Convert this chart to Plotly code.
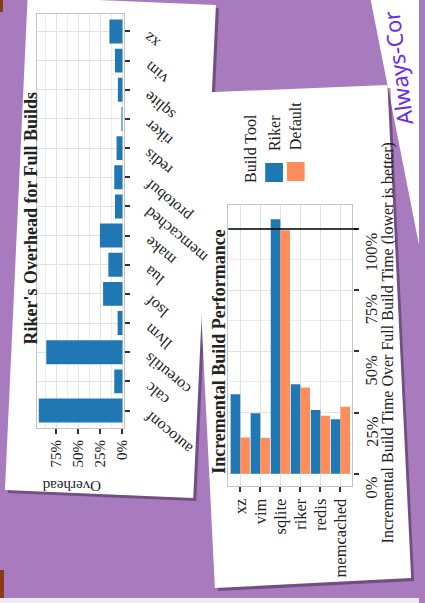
import plotly.graph_objects as go

# ---------------- data ----------------
full_programs = ['autoconf', 'calc', 'coreutils', 'llvm', 'lsof', 'lua', 'make',
                 'memcached', 'protobuf', 'redis', 'riker', 'sqlite', 'vim', 'xz']
full_overhead = [95, 9.3, 86.5, 5.5, 22, 16, 25.6, 8.5, 9.3, 6.7, 1, 5.2, 8.5, 14.8]
full_ticks = [0, 25, 50, 75]
full_ticklabels = ['0%', '25%', '50%', '75%']

inc_programs = ['xz', 'vim', 'sqlite', 'riker', 'redis', 'memcached']
inc_tools = ['Riker', 'Default']
inc_riker = [32.5, 24.7, 104, 36.6, 26, 22.3]
inc_default = [14.8, 14.7, 99.5, 35.2, 23.7, 27.4]
inc_ticks = [0, 25, 50, 75, 100]
inc_ticklabels = ['0%', '25%', '50%', '75%', '100%']
inc_reference = 100

# ---------------- style ----------------
W, H = 425, 603
PURPLE = '#a87abe'
BLUE = '#1f78b4'
ORANGE = '#fd8d5b'
TXT = '#222222'
SERIF = 'Liberation Serif'
GRID = '#e2e2e2'
MINOR = '#ececec'
BORDER = '#c4c4c4'


def fx(p):
    return p / W


def fy(p):
    return 1 - p / H


def poly(pts):
    return 'M ' + ' L '.join(f'{fx(x):.4f},{fy(y):.4f}' for x, y in pts) + ' Z'


fig = go.Figure()

fig.add_trace(go.Bar(
    x=full_overhead, y=full_programs, orientation='h',
    marker=dict(color=BLUE, line=dict(width=0)), width=0.82,
    xaxis='x', yaxis='y', showlegend=False))

fig.add_trace(go.Bar(
    x=inc_programs, y=inc_riker, name=inc_tools[0],
    marker=dict(color=BLUE, line=dict(width=0)),
    xaxis='x2', yaxis='y2', showlegend=False))
fig.add_trace(go.Bar(
    x=inc_programs, y=inc_default, name=inc_tools[1],
    marker=dict(color=ORANGE, line=dict(width=0)),
    xaxis='x2', yaxis='y2', showlegend=False))

shapes = []
shapes.append(dict(type='path', path=poly([(376, 0), (425, 0), (425, 245)]),
                   xref='paper', yref='paper', fillcolor='white', line=dict(width=0), layer='below'))
shapes.append(dict(type='rect', x0=0, x1=1, y0=fy(603), y1=fy(598), xref='paper', yref='paper',
                   fillcolor='#eeeaf0', line=dict(width=0), layer='below'))
shapes.append(dict(type='rect', x0=0, x1=fx(4), y0=fy(598), y1=fy(570), xref='paper', yref='paper',
                   fillcolor='#8a3a12', line=dict(width=0), layer='below'))
shapes.append(dict(type='rect', x0=0, x1=fx(3), y0=fy(12), y1=1, xref='paper', yref='paper',
                   fillcolor='#8a3a12', line=dict(width=0), layer='below'))

card1 = [(28, -3), (219, 5), (196, 498), (5, 490)]
card2 = [(193, 93), (393, 85), (417, 578), (218, 588)]
for card in (card1, card2):
    sh = [(x + 3, y + 3) for x, y in card]
    shapes.append(dict(type='path', path=poly(sh), xref='paper', yref='paper',
                       fillcolor='rgba(50,25,60,0.45)', line=dict(width=0), layer='below'))
    shapes.append(dict(type='path', path=poly(card), xref='paper', yref='paper',
                       fillcolor='white', line=dict(width=0), layer='below'))

shapes.append(dict(type='rect', x0=fx(269), x1=fx(287), y0=fy(182), y1=fy(163), xref='paper', yref='paper',
                   fillcolor=BLUE, line=dict(width=0)))
shapes.append(dict(type='rect', x0=fx(291), x1=fx(309), y0=fy(181), y1=fy(162), xref='paper', yref='paper',
                   fillcolor=ORANGE, line=dict(width=0)))
shapes.append(dict(type='line', xref='x2 domain', x0=0, x1=1.04, yref='y2', y0=inc_reference, y1=inc_reference,
                   line=dict(color='black', width=1.5)))


def A(text, x, y, angle, size, xanchor='center', yanchor='middle', bold=False, family=SERIF,
      color=TXT, xref='paper', yref='paper', **kw):
    if bold:
        text = f'<b>{text}</b>'
    d = dict(text=text, x=x, y=y, xref=xref, yref=yref, xanchor=xanchor, yanchor=yanchor,
             textangle=angle, showarrow=False, font=dict(family=family, size=size, color=color))
    d.update(kw)
    return d


ann = []
ann.append(A("Riker's Overhead for Full Builds", fx(31), fy(218), -90, 18, bold=True))
ann.append(A('Overhead', fx(72), fy(486), 180, 15))
ann.append(A('Incremental Build Performance', fx(222), fy(351), -90, 18, bold=True))
ann.append(A('Incremental Build Time Over Full Build Time (lower is better)', fx(394), fy(343), -90, 16))
ann.append(A('Build Tool', fx(254), fy(185), -90, 16, yanchor='bottom'))
ann.append(A(inc_tools[0], fx(278), fy(153), -90, 16, yanchor='bottom'))
ann.append(A(inc_tools[1], fx(300), fy(152), -90, 16, yanchor='bottom'))
for v, lab in zip(inc_ticks, inc_ticklabels):
    ann.append(A(lab, fx(377), v, -90, 16.5, yanchor='top', yref='y2', yshift=-1))
for p in full_programs:
    ann.append(A(p, fx(140), p, -140, 16, xanchor='left', yanchor='top', yref='y', yshift=5))
ann.append(A('Always-Cor', fx(403), fy(68), -97, 22, family='Noto Sans', color='#6a2cf0'))

axis_common = dict(showline=True, mirror=True, linecolor=BORDER, linewidth=1.2, zeroline=False,
                   ticks='outside', ticklen=5, tickwidth=1.5, tickcolor='#333',
                   gridcolor=GRID, gridwidth=1.3, showgrid=True, fixedrange=True)

fig.update_layout(
    width=W, height=H, margin=dict(l=0, r=0, t=0, b=0),
    paper_bgcolor=PURPLE, plot_bgcolor='white',
    barmode='group', bargap=0.04, bargroupgap=0,
    shapes=shapes, annotations=ann,
    xaxis=dict(domain=[fx(38), fx(126)], anchor='y', range=[96.5, -2],
               tickvals=full_ticks, ticktext=full_ticklabels, tickangle=-90,
               tickfont=dict(family=SERIF, size=15, color=TXT),
               minor=dict(tickvals=[12.5, 37.5, 62.5, 87.5], showgrid=True, gridcolor=MINOR, gridwidth=0.9, ticks=''),
               **axis_common),
    yaxis=dict(domain=[fy(428), fy(14)], anchor='x', side='right', type='category',
               categoryorder='array', categoryarray=full_programs, range=[-0.6, len(full_programs) - 0.4],
               showticklabels=False, **axis_common),
    xaxis2=dict(domain=[fx(231.5), fx(357.5)], anchor='y2', type='category',
                categoryorder='array', categoryarray=inc_programs, range=[-0.6, len(inc_programs) - 0.4],
                tickangle=-90, tickfont=dict(family=SERIF, size=16.5, color=TXT),
                **axis_common),
    yaxis2=dict(domain=[fy(486), fy(204.5)], anchor='x2', side='right', range=[-5, 110],
                tickvals=inc_ticks, showticklabels=False,
                minor=dict(tickvals=[12.5, 37.5, 62.5, 87.5], showgrid=True, gridcolor=MINOR, gridwidth=0.9, ticks=''),
                **axis_common),
)

fig.write_html('out.html')
